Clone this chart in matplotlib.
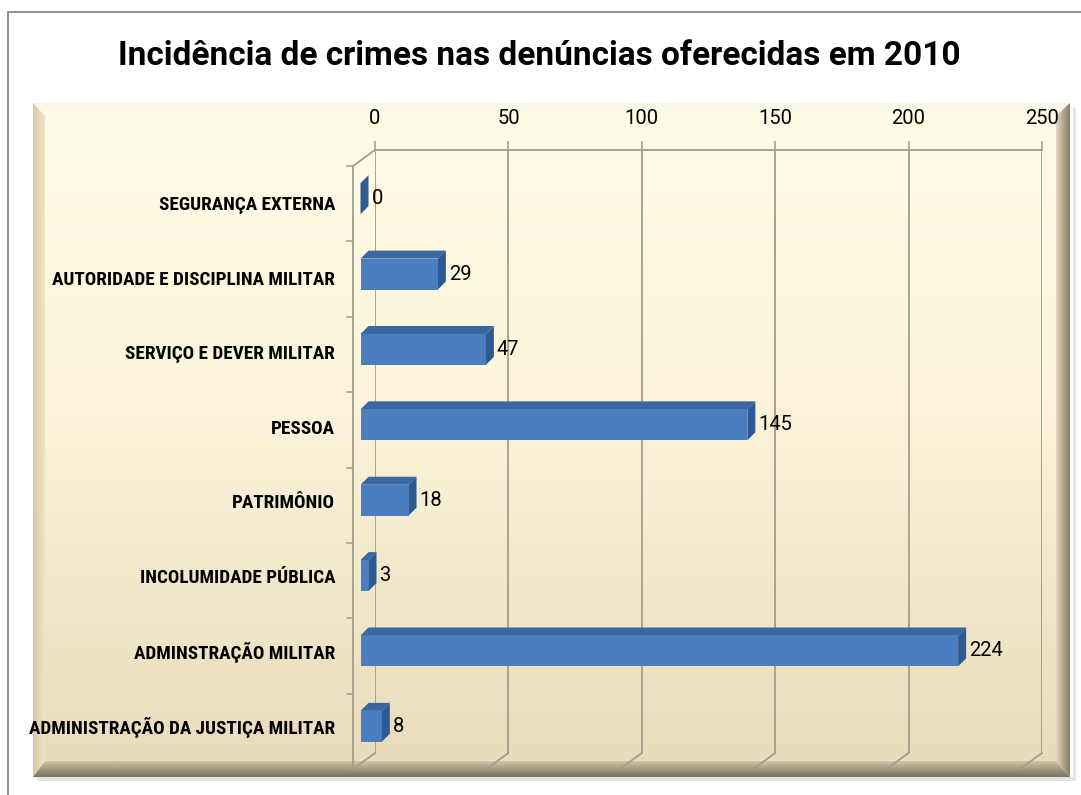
import numpy as np
import matplotlib
matplotlib.use("Agg")
import matplotlib.pyplot as plt
from matplotlib.patches import Polygon
from matplotlib.colors import to_rgb
import matplotlib.font_manager as fm

# ---------------- data ----------------
title = "Incidência de crimes nas denúncias oferecidas em 2010"
categories = [
    "SEGURANÇA EXTERNA",
    "AUTORIDADE E DISCIPLINA MILITAR",
    "SERVIÇO E DEVER MILITAR",
    "PESSOA",
    "PATRIMÔNIO",
    "INCOLUMIDADE PÚBLICA",
    "ADMINSTRAÇÃO MILITAR",
    "ADMINISTRAÇÃO DA JUSTIÇA MILITAR",
]
values = [0, 29, 47, 145, 18, 3, 224, 8]
xticks = [0, 50, 100, 150, 200, 250]

# ---------------- fonts ----------------
avail = {f.name for f in fm.fontManager.ttflist}
NARROW = next((f for f in ["Liberation Sans Narrow", "Roboto Condensed",
                           "Open Sans Condensed", "Noto Sans Condensed",
                           "Lato"] if f in avail), "DejaVu Sans")
REG = "Roboto" if "Roboto" in avail else "DejaVu Sans"
plt.rcParams["font.family"] = [NARROW, "DejaVu Sans"]

W, H = 1081, 795
fig = plt.figure(figsize=(W / 100, H / 100), dpi=100)
fig.patch.set_facecolor("white")

# ---------------- background (pixel coords) ----------------
bg = fig.add_axes([0, 0, 1, 1])
bg.set_xlim(0, W)
bg.set_ylim(H, 0)
bg.axis("off")


def grad_poly(verts, stops, direction="v"):
    poly = Polygon(verts, closed=True, fc="none", ec="none")
    bg.add_patch(poly)
    xs = [v[0] for v in verts]
    ys = [v[1] for v in verts]
    n = 256
    t = np.linspace(0, 1, n)
    pos = [s[0] for s in stops]
    cols = np.array([to_rgb(s[1]) for s in stops])
    arr = np.stack([np.interp(t, pos, cols[:, k]) for k in range(3)], axis=1)
    if direction == "v":
        img = arr[:, None, :]
    else:
        img = arr[None, :, :]
    bg.imshow(img, extent=(min(xs), max(xs), max(ys), min(ys)),
              aspect="auto", interpolation="bilinear", clip_path=poly,
              zorder=1)


# outer grey frame (cut at right/bottom)
bg.plot([8, 8, W], [H, 12, 12], color="#8f8f8f", lw=1.4, zorder=0.5,
        solid_joinstyle="miter")

L, T, R, B = 33, 103, 1070, 777
l, t, r, b = 45, 116, 1056, 761
# soft shadow
bg.add_patch(Polygon([(L + 3, B), (R + 3, B), (R + 3, T + 4), (R + 6, T + 6),
                      (R + 6, B + 4), (L + 6, B + 4)], closed=True,
                     fc="#e4e4e4", ec="none", zorder=0.8))
# inner face gradient
grad_poly([(l, t), (r, t), (r, b), (l, b)],
          [(0, "#fffce6"), (0.45, "#fbf4da"), (1, "#e8dcbc")], "v")
# bevels
grad_poly([(L, T), (R, T), (r, t), (l, t)],
          [(0, "#fbf8ea"), (1, "#fffbe4")], "v")
grad_poly([(L, T), (l, t), (l, b), (L, B)],
          [(0, "#d6c9a4"), (1, "#efe6ca")], "h")
grad_poly([(R, T), (R, B), (r, b), (r, t)],
          [(0, "#e6dcc2"), (0.5, "#b3a98f"), (1, "#867d68")], "h")
grad_poly([(L, B), (l, b), (r, b), (R, B)],
          [(0, "#d2c6a3"), (0.5, "#a59b80"), (1, "#797160")], "v")

# ---------------- main (back wall) axes ----------------
ax = fig.add_axes([375 / W, 1 - 753 / H, 667 / W, 603 / H])
ax.set_zorder(2)
ax.set_facecolor("none")
n = len(categories)
ax.set_xlim(0, 250)
ax.set_ylim(n - 0.5, -0.5)
px_x = 667 / 250.0
px_y = 603 / float(n)

GRID = "#a29d8d"
ax.set_xticks(xticks)
ax.xaxis.tick_top()
ax.set_yticks([])
ax.grid(axis="x", color=GRID, lw=1.3, zorder=0)
ax.set_axisbelow(True)
for s in ["left", "right", "bottom"]:
    ax.spines[s].set_visible(False)
ax.spines["top"].set_color(GRID)
ax.spines["top"].set_linewidth(1.3)
ax.tick_params(axis="x", length=6.5, width=1.1, color=GRID, pad=9,
               labelsize=14.5, labelcolor="black")
for lab in ax.get_xticklabels():
    lab.set_fontfamily(REG)

# depth offsets (data units)
wdx, wdy = -22 / px_x, 16 / px_y          # wall front plane
fdx, fdy = -14.5 / px_x, 11 / px_y        # bar front face
kdx, kdy = -6.5 / px_x, 3 / px_y          # bar back face

# side wall / floor edges
ax.plot([0, wdx, wdx], [-0.5, -0.5 + wdy, n - 0.5 + wdy], color=GRID,
        lw=1.3, clip_on=False, zorder=1)
for v in xticks:
    ax.plot([v, v + wdx], [n - 0.5, n - 0.5 + wdy], color=GRID, lw=1.3,
            clip_on=False, zorder=1)
ax.plot([wdx, 250 + wdx], [n - 0.5 + wdy] * 2, color=GRID, lw=1.3,
        clip_on=False, zorder=1)
for i in range(n + 1):
    ax.plot([wdx - 6 / px_x, wdx], [i - 0.5 + wdy] * 2, color=GRID, lw=1.1,
            clip_on=False, zorder=1)

# bars
FRONT, TOP, SIDE = "#4a7ebf", "#3a67a1", "#2f5a91"
h = 0.41
ypos = np.arange(n)
ax.barh(ypos + fdy, values, left=fdx, height=h, color=FRONT, lw=0,
        zorder=4, clip_on=False)
for i, v in enumerate(values):
    y0 = i - h / 2
    top = [(fdx, y0 + fdy), (v + fdx, y0 + fdy), (v + kdx, y0 + kdy),
           (kdx, y0 + kdy)]
    side = [(v + fdx, y0 + fdy), (v + fdx, y0 + h + fdy),
            (v + kdx, y0 + h + kdy), (v + kdx, y0 + kdy)]
    ax.add_patch(Polygon(top, closed=True, fc=TOP, ec="none", zorder=3.5,
                         clip_on=False))
    ax.add_patch(Polygon(side, closed=True, fc=SIDE, ec="none", zorder=3.6,
                         clip_on=False))
    ax.text(v + kdx + 3 / px_x, i + fdy, str(v), ha="left", va="center",
            fontsize=14.5, family=REG, color="black", zorder=6,
            clip_on=False)

# category labels (slight perspective spacing)
labels = []
lab_top = (205 - 150) / px_y - 0.5
lab_step = 74.6 / px_y
for i, c in enumerate(categories):
    labels.append(ax.text(wdx - 18 / px_x, lab_top + i * lab_step, c,
                          ha="right", va="center", fontsize=11,
                          fontweight="bold", color="black", clip_on=False,
                          zorder=6))

ttl = fig.text(539 / W, 1 - 56 / H, title, ha="center", va="center",
               fontsize=18, fontweight="bold", family=REG, color="black")

# ---- size text to match reference widths ----
renderer = fig.canvas.get_renderer()


def width(tx):
    return tx.get_window_extent(renderer).width


ttl.set_fontsize(ttl.get_fontsize() * 842 / width(ttl))
longest = labels[-1]
lfs = longest.get_fontsize() * 305 / width(longest)
for tx in labels:
    tx.set_fontsize(lfs)

fig.savefig("out.png", dpi=100, facecolor="white")
